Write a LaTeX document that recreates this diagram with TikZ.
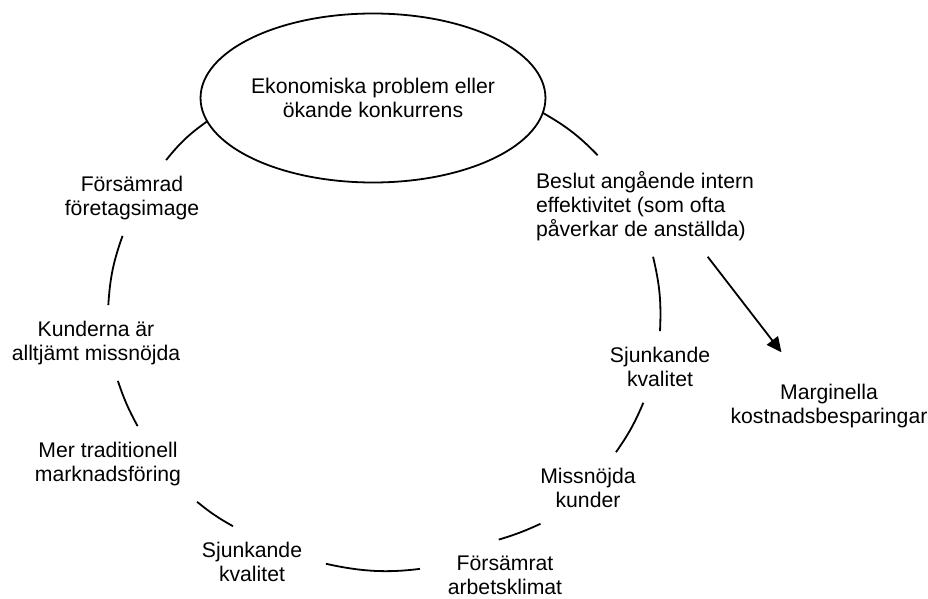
\documentclass[tikz,border=0pt]{standalone}
\usepackage{fontspec}
\setmainfont{Liberation Sans}
\usetikzlibrary{shapes.geometric, arrows.meta, positioning}

\begin{document}
\begin{tikzpicture}[x=0.5pt,y=-0.5pt]
    \tikzstyle{every node} = [font=\fontsize{10.6}{12}\selectfont]
    \tikzstyle{txt} = [align=center, inner sep=1pt, outer sep=7pt]
    \tikzstyle{ring} = [line width=0.9pt]
    \useasboundingbox (0,0) rectangle (928,599);
    % place nodes
    \node[draw, ellipse, ring, minimum width=169pt, minimum height=84.5pt, inner sep=0pt, outer sep=0pt, align=center](economicProblems) at (373,98){Ekonomiska problem eller\\ökande konkurrens};
    \node[txt](worseImage) at (132,198){Försämrad\\företagsimage};
    \node[txt](stillUnhappy) at (96,343){Kunderna är\\alltjämt missnöjda};
    \node[txt](tradMarketing) at (108,464){Mer traditionell\\marknadsföring};
    \node[txt](lowQualityLeft) at (252,562){Sjunkande\\kvalitet};
    \node[txt](worseClimate) at (505,575){Försämrat\\arbetsklimat};
    \node[txt](unhappyCustomers) at (588,488){Missnöjda\\kunder};
    \node[txt](lowQualityRight) at (660,367){Sjunkande\\kvalitet};
    \node[txt,align=left,anchor=west](efficiencyDecision) at (520,206){Beslut angående intern\\effektivitet (som ofta\\påverkar de anställda)};
    \node[txt](costSavings) at (829,406){Marginella\\kostnadsbesparingar};

    % Connections
    \draw[ring]
    (economicProblems.188) to[bend right=8] (worseImage.48);
    \draw[ring]
    (worseImage.256) to[bend right=8] (stillUnhappy.72);
    \draw[ring]
    (stillUnhappy.-60) to[bend right=5] (tradMarketing.52);
    \draw[ring]
    (tradMarketing.-23) to[bend right=5] (lowQualityLeft.118);
    \draw[ring,shorten <=4pt,shorten >=6pt]
    (lowQualityLeft.0) to[bend right=10] (worseClimate.174);
    \draw[ring]
    (worseClimate.100) to[bend right=4] (unhappyCustomers.217);
    \draw[ring]
    (unhappyCustomers.52) to[bend right=6] (lowQualityRight.-115);
    \draw[ring]
    (lowQualityRight.90) to[bend right=8] (efficiencyDecision.-81);
    \draw[ring]
    (efficiencyDecision.133) to[bend right=8] (economicProblems.-5);
    \draw[-{Triangle[length=7.5pt,width=7pt]},ring,shorten >=10pt]
    (efficiencyDecision.-39)--(costSavings.133);

\end{tikzpicture}
\end{document}
